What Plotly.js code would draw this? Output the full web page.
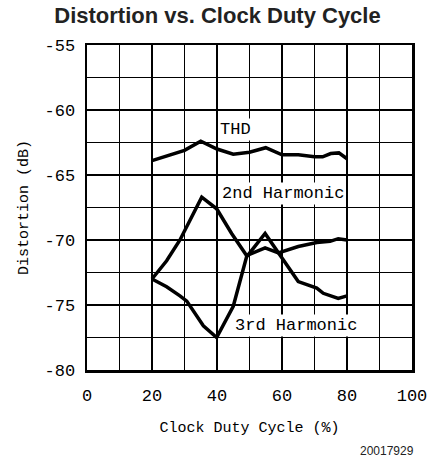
<!DOCTYPE html>
<html>
<head>
<meta charset="utf-8">
<script src="https://cdn.plot.ly/plotly-3.0.1.min.js"></script>
<style>
  html, body { margin: 0; padding: 0; background: #fff; }
  #plotArea { width: 435px; height: 465px; }
</style>
</head>
<body>
<div id="plotArea"></div>
<script>
// values
let thdX = [20, 25, 30, 35, 40, 45, 50, 55, 60, 65, 70, 72.5, 75, 77.5, 80];
let thdY = [-63.9, -63.5, -63.1, -62.4, -63.0, -63.4, -63.25, -62.9, -63.45, -63.45, -63.6, -63.6, -63.35, -63.3, -63.75];

let h2X = [20, 24.5, 28.6, 35.3, 39.9, 44.5, 49.1, 54.8, 58.9, 65, 70.7, 74.8, 77.3, 80];
let h2Y = [-73.0, -71.6, -70.0, -66.7, -67.6, -69.5, -71.2, -70.6, -71.0, -70.5, -70.2, -70.1, -69.9, -70.0];

let h3X = [20, 24.5, 28.6, 30.7, 35.8, 39.9, 45, 49.1, 54.8, 59.9, 65, 70.7, 72.7, 77.3, 80];
let h3Y = [-73.0, -73.6, -74.3, -74.7, -76.6, -77.5, -75.1, -71.3, -69.5, -71.3, -73.2, -73.7, -74.1, -74.5, -74.3];

let xTickVals = [0, 10, 20, 30, 40, 50, 60, 70, 80, 90, 100];
let xTickText = ["0", "", "20", "", "40", "", "60", "", "80", "", "100"];
let yTickVals = [-80, -77.5, -75, -72.5, -70, -67.5, -65, -62.5, -60, -57.5, -55];
let yTickText = ["-80", "", "-75", "", "-70", "", "-65", "", "-60", "", "-55"];

let lineStyle = { color: "black", width: 3.5 };

let traceTHD = { x: thdX, y: thdY, mode: "lines", type: "scatter", line: lineStyle, name: "THD" };
let trace2nd = { x: h2X, y: h2Y, mode: "lines", type: "scatter", line: lineStyle, name: "2nd Harmonic" };
let trace3rd = { x: h3X, y: h3Y, mode: "lines", type: "scatter", line: lineStyle, name: "3rd Harmonic" };

let tickFont = { family: "Liberation Mono", size: 17, color: "black" };
let titleFont = { family: "Liberation Mono", size: 15, color: "black" };

let layout = {
  width: 435, height: 465,
  margin: { l: 87, r: 23, t: 45, b: 95 },
  paper_bgcolor: "white", plot_bgcolor: "white",
  showlegend: false,
  font: tickFont,
  title: {
    text: "<b>Distortion vs. Clock Duty Cycle</b>",
    font: { family: "Liberation Sans", size: 22, color: "#222" },
    x: 0.5, xanchor: "center", y: 0.968, yanchor: "middle"
  },
  xaxis: {
    range: [0, 100], tickvals: xTickVals, ticktext: xTickText,
    showgrid: true, gridcolor: "black", gridwidth: 1.5,
    showline: true, mirror: true, linecolor: "black", linewidth: 2.5,
    zeroline: false, ticks: "", ticklen: 0, ticklabelstandoff: 8,
    tickfont: tickFont,
    title: { text: "Clock Duty Cycle (%)", font: titleFont, standoff: 17 }
  },
  yaxis: {
    range: [-80, -55], tickvals: yTickVals, ticktext: yTickText,
    showgrid: true, gridcolor: "black", gridwidth: 1.5,
    showline: true, mirror: true, linecolor: "black", linewidth: 2.5,
    zeroline: false, ticks: "", ticklen: 0, ticklabelstandoff: 6,
    tickfont: tickFont,
    title: { text: "Distortion (dB)", font: titleFont, standoff: 12 }
  },
  annotations: [
    { x: 45.8, y: -61.5, text: "THD", showarrow: false, bgcolor: "white", font: tickFont, borderpad: 1 },
    { x: 60.3, y: -66.45, text: "2nd Harmonic", showarrow: false, bgcolor: "white", font: tickFont, borderpad: 1 },
    { x: 64.3, y: -76.6, text: "3rd Harmonic", showarrow: false, bgcolor: "white", font: tickFont, borderpad: 1 },
    { x: 1, y: 0, xref: "paper", yref: "paper", xanchor: "right", yanchor: "middle",
      xshift: 4, yshift: -81, text: "20017929", showarrow: false,
      font: { family: "Liberation Sans", size: 12, color: "#222" } }
  ]
};

Plotly.newPlot("plotArea", [traceTHD, trace2nd, trace3rd], layout, { displayModeBar: false, staticPlot: true });
</script>
</body>
</html>
